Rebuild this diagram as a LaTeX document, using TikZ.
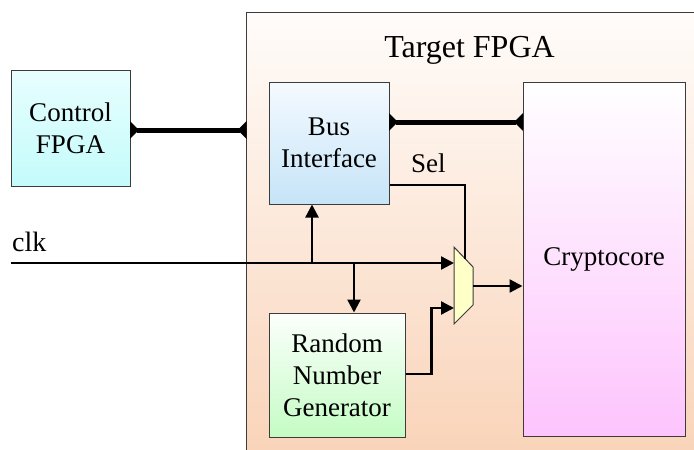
\documentclass[tikz,border=0pt]{standalone}
\usepackage{fontspec}
\setmainfont{Liberation Serif}
\usetikzlibrary{arrows.meta,calc}

\definecolor{edgegray}{RGB}{60,60,60}
\definecolor{tgtTop}{RGB}{255,252,250}
\definecolor{tgtBot}{RGB}{249,210,182}
\definecolor{ctrlTop}{RGB}{232,254,254}
\definecolor{ctrlBot}{RGB}{196,251,251}
\definecolor{busTop}{RGB}{244,250,255}
\definecolor{busBot}{RGB}{198,228,248}
\definecolor{rngTop}{RGB}{252,255,252}
\definecolor{rngBot}{RGB}{196,252,196}
\definecolor{cryTop}{RGB}{255,255,255}
\definecolor{cryBot}{RGB}{253,196,253}
\definecolor{muxFill}{RGB}{255,255,200}

\tikzset{
  blockfont/.style={font=\fontsize{27}{32}\selectfont},
  block/.style={draw=edgegray, line width=1pt, rectangle, align=center,
    inner sep=0pt, blockfont},
  sig/.style={line width=2.3pt, black},
  arr/.style={sig, -{Triangle[length=13pt,width=13pt]}},
  busline/.style={line width=5pt, black,
    {Triangle[reversed,length=9pt,width=17pt]}-{Triangle[reversed,length=9pt,width=17pt]},
    shorten <=-0.5pt, shorten >=-0.5pt},
}

\begin{document}
\begin{tikzpicture}[x=1pt, y=-1pt]
  \useasboundingbox (0,0) rectangle (694,450);

  % enclosing target device
  \node[draw=edgegray, line width=1pt, top color=tgtTop, bottom color=tgtBot,
        minimum width=460pt, minimum height=460pt, anchor=north west, inner sep=0pt]
        (target) at (246,12) {};
  \node[anchor=base, inner sep=0pt, font=\fontsize{32}{36}\selectfont]
        (title) at (469.5,57) {Target FPGA};

  % blocks
  \node[block, top color=ctrlTop, bottom color=ctrlBot,
        minimum width=119pt, minimum height=116pt] (ctrl) at (70.5,128) {Control\\FPGA};
  \node[block, top color=busTop, bottom color=busBot,
        minimum width=120pt, minimum height=122pt] (bus) at (329,143) {Bus\\Interface};
  \node[block, top color=cryTop, bottom color=cryBot,
        minimum width=162pt, minimum height=354pt] (crypto) at (604,259) {Cryptocore};
  \node[block, top color=rngTop, bottom color=rngBot,
        minimum width=136pt, minimum height=124pt] (rng) at (337,375) {Random\\Number\\Generator};

  % multiplexer
  \draw[draw=edgegray, line width=1pt, fill=muxFill]
    (454,247) -- (473,267) -- (473,305) -- (454,324) -- cycle;
  \coordinate (muxA) at (454,263);
  \coordinate (muxB) at (454,308);
  \coordinate (muxOut) at (473,286);
  \coordinate (muxSel) at (465,258.6);

  % labels
  \node[anchor=base west, inner sep=0pt, font=\fontsize{28}{32}\selectfont] (clklbl) at (12,251) {clk};
  \node[anchor=base west, inner sep=0pt, blockfont] (sellbl) at (411,172) {Sel};

  % buses
  \draw[busline] ([yshift=-2pt]ctrl.east) -- ([yshift=-2pt]ctrl.east -| target.west);
  \draw[busline] ([yshift=21pt]bus.east) -- ([yshift=21pt]bus.east -| crypto.west);

  % clock distribution
  \coordinate (clkin) at (11,263);
  \coordinate (j1) at (312,263);
  \coordinate (j2) at (354,263);
  \draw[arr] (clkin) -- (muxA);
  \draw[arr] (j1) -- (j1 |- bus.south);
  \draw[arr] (j2) -- (j2 |- rng.north);

  % select and data paths
  \draw[sig] ([yshift=-42pt]bus.east) -| (muxSel);
  \draw[arr] ([yshift=1pt]rng.east) -- ++(26,0) |- (muxB);
  \draw[arr] (muxOut) -- (muxOut -| crypto.west);
\end{tikzpicture}
\end{document}
